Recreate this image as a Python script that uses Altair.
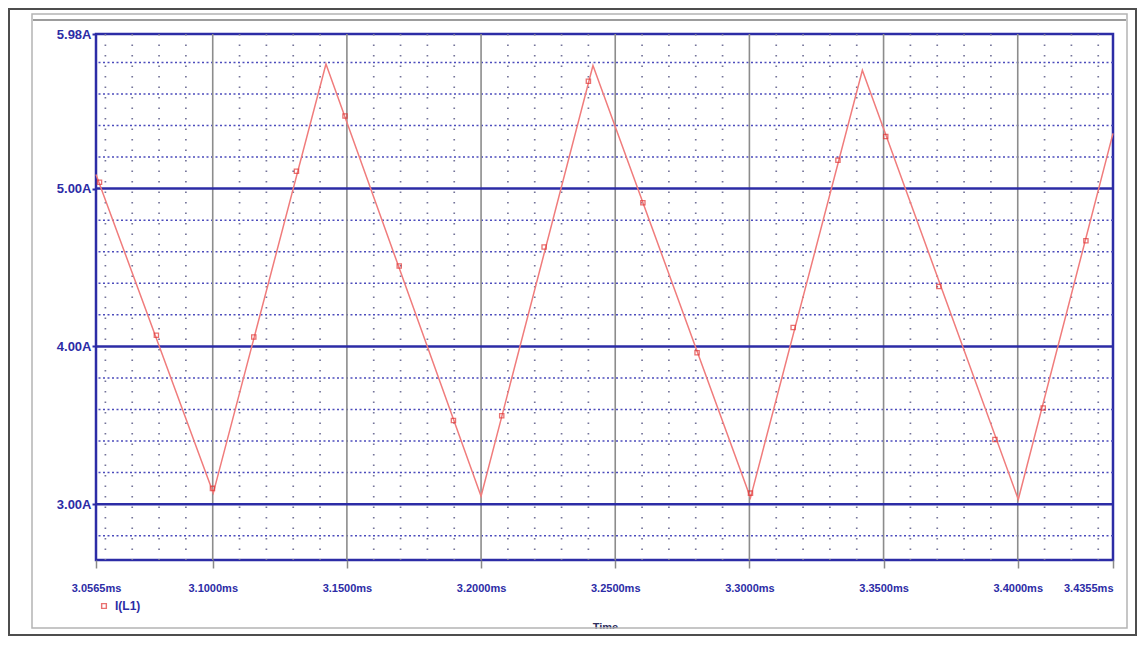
import altair as alt
import pandas as pd

# ---- waveform I(L1): corner points of the triangle wave (time in ms, current in A)
t_vertex = [3.0565, 3.1002, 3.1422, 3.2000, 3.2417, 3.3004, 3.3421, 3.4002, 3.4355]
i_vertex = [5.09, 3.07, 5.79, 3.05, 5.78, 3.04, 5.75, 3.03, 5.35]

# ---- PSpice trace markers along the waveform
t_marker = [3.0578, 3.0790, 3.0999, 3.1153, 3.1312, 3.1493, 3.1695, 3.1897, 3.2077,
            3.2235, 3.2400, 3.2603, 3.2805, 3.3004, 3.3163, 3.3330, 3.3508, 3.3706,
            3.3915, 3.4095, 3.4254]
i_marker = [5.04, 4.07, 3.10, 4.06, 5.11, 5.46, 4.51, 3.53, 3.56,
            4.63, 5.68, 4.91, 3.96, 3.07, 4.12, 5.18, 5.33, 4.38,
            3.41, 3.61, 4.67]
series_name = "I(L1)"

# ---- axes / grid values
x_ticks = [3.0565, 3.10, 3.15, 3.20, 3.25, 3.30, 3.35, 3.40, 3.4355]
y_ticks = [3.00, 4.00, 5.00, 5.98]
x_major = [3.10, 3.15, 3.20, 3.25, 3.30, 3.35, 3.40]
x_minor = [3.06, 3.07, 3.08, 3.09, 3.11, 3.12, 3.13, 3.14, 3.16, 3.17, 3.18, 3.19,
           3.21, 3.22, 3.23, 3.24, 3.26, 3.27, 3.28, 3.29, 3.31, 3.32, 3.33, 3.34,
           3.36, 3.37, 3.38, 3.39, 3.41, 3.42, 3.43]
y_major = [3.0, 4.0, 5.0]
y_minor = [2.8, 3.2, 3.4, 3.6, 3.8, 4.2, 4.4, 4.6, 4.8, 5.2, 5.4, 5.6, 5.8]
x_domain = [3.0565, 3.4355]
y_domain = [2.646, 5.98]

BLUE = "#2c2ca6"
FONT = "Liberation Sans"

x_axis = alt.Axis(
    values=x_ticks,
    labelExpr="format(datum.value, '.4f') + 'ms'",
    labelFont=FONT, labelFontSize=11, labelFontWeight="bold",
    labelColor=BLUE, labelPadding=14, labelFlush=False, labelOverlap=False,
    labelAlign={"condition": {"test": "datum.value > 3.43", "value": "right"}, "value": "center"},
    ticks=True, tickSize=8, tickColor="#8a8a8a", tickWidth=1.5,
    domain=False, grid=False,
    titleFont=FONT, titleFontSize=11, titleFontWeight="bold",
    titleColor="#303060", titleX=509, titleY=61, titleBaseline="top", titleAlign="center",
)
y_axis = alt.Axis(
    values=y_ticks,
    labelExpr="format(datum.value, '.2f') + 'A'",
    labelFont=FONT, labelFontSize=13, labelFontWeight="bold",
    labelColor=BLUE, labelPadding=1, labelBaseline="middle",
    ticks=True, tickSize=4, tickColor=BLUE, tickWidth=2,
    domain=False, grid=False,
)

X = alt.X("t:Q", scale=alt.Scale(domain=x_domain, nice=False, zero=False), axis=x_axis, title="Time")
Y = alt.Y("i:Q", scale=alt.Scale(domain=y_domain, nice=False, zero=False), axis=y_axis, title=None)

wave = pd.DataFrame({"t": t_vertex, "i": i_vertex})
marks = pd.DataFrame({"t": t_marker, "i": i_marker, "s": [series_name] * len(t_marker)})
one = pd.DataFrame({"k": [0]})

# window decoration
cover = alt.Chart(one).mark_rect(fill="white").encode(
    x=alt.value(-70), x2=alt.value(1035), y=alt.value(595), y2=alt.value(602))
inner = alt.Chart(one).mark_rect(fillOpacity=0, stroke="#b4b4b4", strokeWidth=1.5).encode(
    x=alt.value(-64), x2=alt.value(1031), y=alt.value(-20), y2=alt.value(594))
inner_bar = alt.Chart(one).mark_rule(stroke="#9c9c9c", strokeWidth=2).encode(
    x=alt.value(-63), x2=alt.value(1030), y=alt.value(-14))
outer = alt.Chart(one).mark_rect(fillOpacity=0, stroke="#4e4e4e", strokeWidth=2).encode(
    x=alt.value(-87), x2=alt.value(1040), y=alt.value(-25), y2=alt.value(601))

# grid
gx_minor = alt.Chart(pd.DataFrame({"t": x_minor})).mark_rule(
    stroke="#74749a", strokeWidth=1.7, strokeDash=[1.5, 9]).encode(x=X)
gy_minor = alt.Chart(pd.DataFrame({"i": y_minor})).mark_rule(
    stroke="#4c4cbc", strokeWidth=1.5, strokeDash=[2, 2.5]).encode(y=Y)
gx_major = alt.Chart(pd.DataFrame({"t": x_major})).mark_rule(
    stroke="#8c8c8c", strokeWidth=1.6).encode(x=X)
gy_major = alt.Chart(pd.DataFrame({"i": y_major})).mark_rule(
    stroke=BLUE, strokeWidth=2.5).encode(y=Y)

line = alt.Chart(wave).mark_line(color="#f07c7c", strokeWidth=1.5).encode(x=X, y=Y)
points = alt.Chart(marks).mark_point(shape="square", filled=False, size=18, strokeWidth=1.3).encode(
    x=X, y=Y,
    color=alt.Color("s:N", scale=alt.Scale(range=["#e03434"]),
                    legend=alt.Legend(title=None, orient="none", legendX=2, legendY=566,
                                      symbolType="square", symbolSize=22, symbolStrokeWidth=1.4,
                                      labelColor=BLUE, labelFont=FONT,
                                      labelFontSize=12, labelFontWeight="bold",
                                      labelOffset=5, padding=0)))

chart = alt.layer(
    cover, inner, inner_bar, outer,
    gx_minor, gy_minor, gx_major, gy_major,
    line, points,
).properties(
    width=1017, height=526,
    autosize=alt.AutoSizeParams(type="none"),
    padding={"left": 88, "top": 26, "right": 24, "bottom": 76},
    background="white",
).configure_view(stroke=BLUE, strokeWidth=2.5)

chart.save("out.html", embed_options={"renderer": "svg", "actions": False})
